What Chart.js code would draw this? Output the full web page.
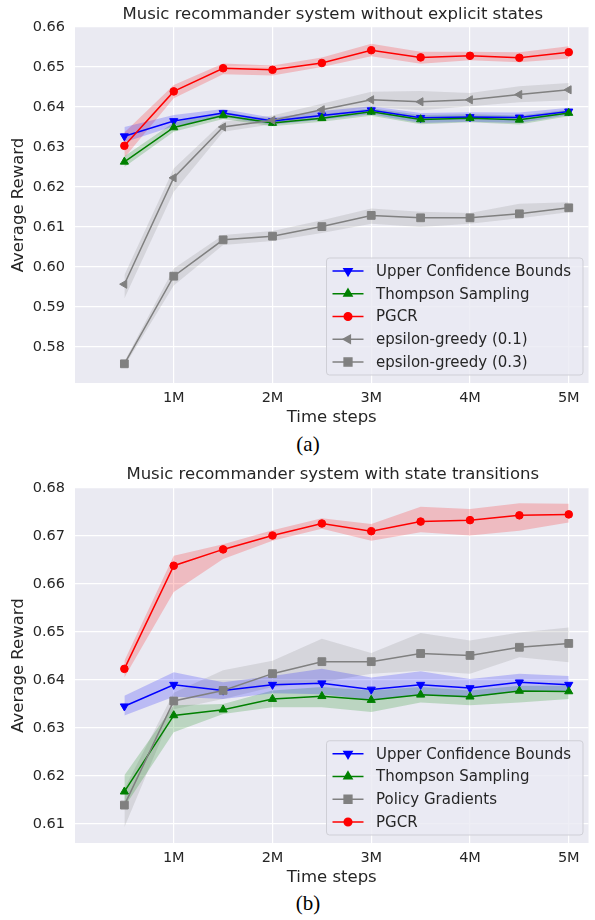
<!DOCTYPE html>
<html>
<head>
<meta charset="utf-8">
<script src="https://cdn.jsdelivr.net/npm/chart.js@4/dist/chart.umd.min.js"></script>
<style>
  body { margin: 0; background: #ffffff; width: 595px; height: 920px; position: relative; overflow: hidden; }
  .box { position: absolute; left: 0; width: 595px; height: 430px; }
  .cap { position: absolute; left: 288px; width: 40px; text-align: center; font-family: "Liberation Serif", serif; font-size: 21px; color: #000; }
</style>
</head>
<body>
<div class="box" style="top:0px"><canvas id="chartA" width="595" height="430"></canvas></div>
<div class="cap" style="top:432px">(a)</div>
<div class="box" style="top:460px"><canvas id="chartB" width="595" height="430"></canvas></div>
<div class="cap" style="top:891px">(b)</div>
<script>
// time steps (millions)
let steps = [0.5, 1, 1.5, 2, 2.5, 3, 3.5, 4, 4.5, 5];
let xTicks = [1, 2, 3, 4, 5];
let xTickLabels = ['1M', '2M', '3M', '4M', '5M'];

// (a) without explicit states
let yTicksA = [0.58, 0.59, 0.60, 0.61, 0.62, 0.63, 0.64, 0.65, 0.66];
let ucbA = [0.6327, 0.6365, 0.6385, 0.6365, 0.6379, 0.6392, 0.6373, 0.6375, 0.6374, 0.6389];
let ucbA_lo = [0.6312, 0.6352, 0.6375, 0.6356, 0.6368, 0.6382, 0.6360, 0.6363, 0.6360, 0.6380];
let ucbA_hi = [0.6350, 0.6380, 0.6395, 0.6373, 0.6390, 0.6402, 0.6385, 0.6387, 0.6386, 0.6398];
let tsA = [0.6263, 0.6349, 0.6379, 0.6360, 0.6372, 0.6388, 0.6369, 0.6372, 0.6368, 0.6385];
let tsA_lo = [0.6250, 0.6338, 0.6370, 0.6352, 0.6363, 0.6378, 0.6357, 0.6362, 0.6356, 0.6377];
let tsA_hi = [0.6277, 0.6361, 0.6388, 0.6368, 0.6381, 0.6397, 0.6380, 0.6382, 0.6379, 0.6393];
let pgcrA = [0.6303, 0.6439, 0.6497, 0.6493, 0.6510, 0.6542, 0.6524, 0.6528, 0.6523, 0.6537];
let pgcrA_lo = [0.6273, 0.6422, 0.6482, 0.6479, 0.6500, 0.6527, 0.6508, 0.6517, 0.6512, 0.6521];
let pgcrA_hi = [0.6336, 0.6455, 0.6509, 0.6504, 0.6524, 0.6558, 0.6538, 0.6538, 0.6537, 0.6552];
let eps1A = [0.5957, 0.6223, 0.6350, 0.6367, 0.6393, 0.6418, 0.6413, 0.6418, 0.6431, 0.6443];
let eps1A_lo = [0.5921, 0.6188, 0.6338, 0.6357, 0.6379, 0.6400, 0.6392, 0.6402, 0.6412, 0.6417];
let eps1A_hi = [0.5980, 0.6246, 0.6363, 0.6379, 0.6408, 0.6438, 0.6440, 0.6435, 0.6452, 0.6460];
let eps3A = [0.5758, 0.5977, 0.6068, 0.6077, 0.6101, 0.6129, 0.6123, 0.6123, 0.6133, 0.6148];
let eps3A_lo = [0.5752, 0.5954, 0.6055, 0.6065, 0.6085, 0.6108, 0.6100, 0.6108, 0.6122, 0.6137];
let eps3A_hi = [0.5764, 0.5996, 0.6080, 0.6090, 0.6117, 0.6146, 0.6138, 0.6135, 0.6158, 0.6162];

// (b) with state transitions
let yTicksB = [0.61, 0.62, 0.63, 0.64, 0.65, 0.66, 0.67, 0.68];
let ucbB = [0.6345, 0.6390, 0.6378, 0.6390, 0.6393, 0.6380, 0.6390, 0.6383, 0.6395, 0.6390];
let ucbB_lo = [0.6326, 0.6365, 0.6360, 0.6372, 0.6370, 0.6358, 0.6368, 0.6363, 0.6377, 0.6375];
let ucbB_hi = [0.6367, 0.6416, 0.6395, 0.6408, 0.6423, 0.6405, 0.6418, 0.6402, 0.6413, 0.6408];
let tsB = [0.6167, 0.6326, 0.6338, 0.6360, 0.6366, 0.6358, 0.6369, 0.6365, 0.6377, 0.6376];
let tsB_lo = [0.6135, 0.6291, 0.6329, 0.6343, 0.6343, 0.6333, 0.6353, 0.6347, 0.6353, 0.6360];
let tsB_hi = [0.6201, 0.6347, 0.6350, 0.6378, 0.6385, 0.6378, 0.6385, 0.6378, 0.6388, 0.6388];
let pgB = [0.6139, 0.6356, 0.6378, 0.6413, 0.6438, 0.6438, 0.6455, 0.6451, 0.6468, 0.6476];
let pgB_lo = [0.6093, 0.6339, 0.6360, 0.6385, 0.6395, 0.6413, 0.6419, 0.6413, 0.6447, 0.6437];
let pgB_hi = [0.6173, 0.6373, 0.6420, 0.6440, 0.6486, 0.6456, 0.6498, 0.6482, 0.6499, 0.6509];
let pgcrB = [0.6423, 0.6638, 0.6672, 0.6701, 0.6726, 0.6710, 0.6730, 0.6733, 0.6743, 0.6745];
let pgcrB_lo = [0.6405, 0.6583, 0.6652, 0.6690, 0.6715, 0.6690, 0.6708, 0.6701, 0.6711, 0.6728];
let pgcrB_hi = [0.6440, 0.6659, 0.6683, 0.6712, 0.6737, 0.6725, 0.6761, 0.6756, 0.6768, 0.6767];

let FONT = 'DejaVu Sans';
let TEXT = '#262626';

function pts(vals) {
  return vals.map((v, i) => ({ x: steps[i], y: v }));
}

function rgba(rgb, a) {
  return 'rgba(' + rgb.join(',') + ',' + a + ')';
}

// each series gives three datasets: lower bound, upper bound (filled to lower), mean line
function buildDatasets(series) {
  let sets = [];
  let n = series.length;
  series.forEach(function (s, k) {
    let col = rgba(s.rgb, 1);
    let band = rgba(s.rgb, 0.2);
    sets.push({ data: pts(s.lo), borderWidth: 0, pointRadius: 0, fill: false, order: 100 });
    sets.push({ data: pts(s.hi), borderWidth: 0, pointRadius: 0, fill: '-1', backgroundColor: band, order: 100 });
    sets.push({
      label: s.label, data: pts(s.mean), borderColor: col, backgroundColor: col,
      borderWidth: 1.5, pointStyle: s.style, rotation: s.rot, pointRadius: s.r,
      pointBorderWidth: 1, pointBorderColor: col, pointBackgroundColor: col,
      fill: false, order: n - k, isSeries: true
    });
  });
  return sets;
}

let bgPlugin = {
  id: 'bg',
  beforeDraw(chart) {
    let a = chart.chartArea, ctx = chart.ctx;
    ctx.save();
    ctx.fillStyle = '#eaeaf2';
    ctx.fillRect(a.left, a.top, a.right - a.left, a.bottom - a.top);
    ctx.restore();
  }
};

let titlePlugin = {
  id: 'midTitle',
  afterDraw(chart, args, opts) {
    let a = chart.chartArea, ctx = chart.ctx;
    ctx.save();
    ctx.font = '16.5px "' + FONT + '"';
    ctx.fillStyle = TEXT;
    ctx.textAlign = 'center';
    ctx.textBaseline = 'middle';
    ctx.fillText(opts.text, (a.left + a.right) / 2 + 1, 15);
    ctx.restore();
  }
};

let legendPlugin = {
  id: 'boxLegend',
  afterDraw(chart) {
    let a = chart.chartArea, ctx = chart.ctx;
    let items = chart.data.datasets.filter(d => d.isSeries);
    let rowH = 22.75;
    let w = 256.5, h = 26 + (items.length - 1) * rowH;
    let left = a.right - 262, top = a.bottom - 8 - h;
    ctx.save();
    ctx.beginPath();
    ctx.roundRect(left, top, w, h, 3);
    ctx.fillStyle = 'rgba(234,234,242,0.8)';
    ctx.fill();
    ctx.strokeStyle = '#cfcfd6';
    ctx.lineWidth = 1;
    ctx.stroke();
    items.forEach(function (d, i) {
      let y = top + 13 + i * rowH;
      ctx.beginPath();
      ctx.strokeStyle = d.borderColor;
      ctx.lineWidth = 1.5;
      ctx.moveTo(left + 6, y);
      ctx.lineTo(left + 37, y);
      ctx.stroke();
      ctx.fillStyle = d.borderColor;
      Chart.helpers.drawPoint(ctx, {
        pointStyle: d.pointStyle, rotation: d.rotation, radius: d.pointRadius, borderWidth: 1
      }, left + 21.5, y);
      ctx.fillStyle = TEXT;
      ctx.font = '15px "' + FONT + '"';
      ctx.textAlign = 'left';
      ctx.textBaseline = 'middle';
      ctx.fillText(d.label, left + 49.5, y + 1);
    });
    ctx.restore();
  }
};

function makeChart(id, title, series, yTicks, yMin, yMax, padTop) {
  let ctx = document.getElementById(id).getContext('2d');
  return new Chart(ctx, {
    type: 'line',
    data: { datasets: buildDatasets(series) },
    plugins: [bgPlugin, titlePlugin, legendPlugin],
    options: {
      responsive: false,
      animation: false,
      layout: { padding: { top: padTop, right: 0, bottom: 0, left: 0 } },
      plugins: {
        legend: { display: false },
        tooltip: { enabled: false },
        filler: { drawTime: 'beforeDatasetsDraw' },
        midTitle: { text: title }
      },
      scales: {
        x: {
          type: 'linear', min: 0, max: 5.2,
          afterFit(axis) { axis.height = 47; },
          afterBuildTicks(axis) { axis.ticks = xTicks.map(v => ({ value: v })); },
          grid: { color: '#ffffff', lineWidth: 1.2, drawTicks: false },
          border: { display: false },
          ticks: {
            padding: 7, color: TEXT, font: { family: FONT, size: 14.5 },
            maxRotation: 0,
            callback: (v) => xTickLabels[xTicks.indexOf(v)]
          },
          title: {
            display: true, text: 'Time steps', color: TEXT,
            font: { family: FONT, size: 16.5 }, padding: { top: 0, bottom: 2 }
          }
        },
        y: {
          type: 'linear', min: yMin, max: yMax,
          afterFit(axis) { axis.width = 75; },
          afterBuildTicks(axis) { axis.ticks = yTicks.map(v => ({ value: v })); },
          grid: { color: '#ffffff', lineWidth: 1.2, drawTicks: false },
          border: { display: false },
          ticks: {
            padding: 10, color: TEXT, font: { family: FONT, size: 14.5 },
            callback: (v) => v.toFixed(2)
          },
          title: {
            display: true, text: 'Average Reward', color: TEXT,
            font: { family: FONT, size: 16.5 }, padding: { top: 9, bottom: 0 }
          }
        }
      }
    }
  });
}

let seriesA = [
  { label: 'Upper Confidence Bounds', mean: ucbA, lo: ucbA_lo, hi: ucbA_hi, rgb: [0, 0, 255], style: 'triangle', rot: 180, r: 4.7 },
  { label: 'Thompson Sampling', mean: tsA, lo: tsA_lo, hi: tsA_hi, rgb: [0, 128, 0], style: 'triangle', rot: 0, r: 4.7 },
  { label: 'PGCR', mean: pgcrA, lo: pgcrA_lo, hi: pgcrA_hi, rgb: [255, 0, 0], style: 'circle', rot: 0, r: 3.8 },
  { label: 'epsilon-greedy (0.1)', mean: eps1A, lo: eps1A_lo, hi: eps1A_hi, rgb: [128, 128, 128], style: 'triangle', rot: 270, r: 4.7 },
  { label: 'epsilon-greedy (0.3)', mean: eps3A, lo: eps3A_lo, hi: eps3A_hi, rgb: [128, 128, 128], style: 'rect', rot: 0, r: 5.5 }
];

let seriesB = [
  { label: 'Upper Confidence Bounds', mean: ucbB, lo: ucbB_lo, hi: ucbB_hi, rgb: [0, 0, 255], style: 'triangle', rot: 180, r: 4.7 },
  { label: 'Thompson Sampling', mean: tsB, lo: tsB_lo, hi: tsB_hi, rgb: [0, 128, 0], style: 'triangle', rot: 0, r: 4.7 },
  { label: 'Policy Gradients', mean: pgB, lo: pgB_lo, hi: pgB_hi, rgb: [128, 128, 128], style: 'rect', rot: 0, r: 5.5 },
  { label: 'PGCR', mean: pgcrB, lo: pgcrB_lo, hi: pgcrB_hi, rgb: [255, 0, 0], style: 'circle', rot: 0, r: 3.8 }
];

makeChart('chartA', 'Music recommander system without explicit states', seriesA, yTicksA, 0.571, 0.66, 27);
makeChart('chartB', 'Music recommander system with state transitions', seriesB, yTicksB, 0.606, 0.68, 28);
</script>
</body>
</html>
